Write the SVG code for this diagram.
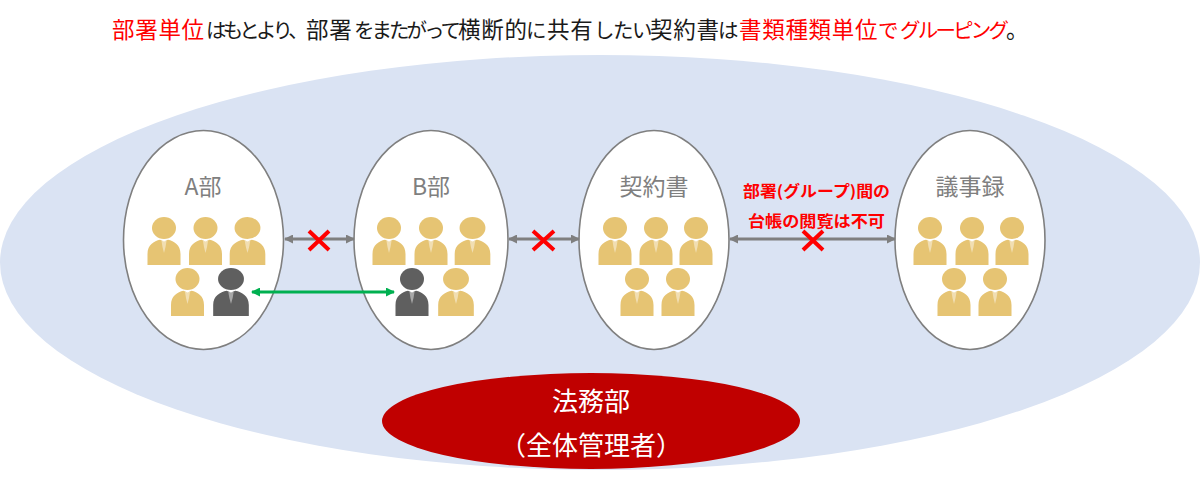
<svg xmlns="http://www.w3.org/2000/svg" xmlns:xlink="http://www.w3.org/1999/xlink" width="1200" height="486" viewBox="0 0 1200 486">
<style>
text{font-family:"Noto Sans CJK JP","Noto Sans",sans-serif}
.title{font-size:22.500px;fill:#1a1a1a}
.r{fill:#ff0000}
.kj{letter-spacing:.7px}
.k1,.k2,.k3,.k4,.k0{font-size:20.500px}
.k1{letter-spacing:-3.700px}
.k2{letter-spacing:-3px}
.k3{letter-spacing:-1.500px}
.k4{letter-spacing:-2.800px}
.grp{fill:#fff;stroke:#7f7f7f;stroke-width:1.6}
.lbl{font-size:23px;fill:#7f7f7f;text-anchor:middle}
.note{font-size:15.500px;font-weight:700;fill:#ff0000;text-anchor:middle}
.adm{font-size:26px;fill:#fff;text-anchor:middle}
.g{fill:#e6c473}
.d{fill:#5f5f5f}
.tie{fill:#fff;opacity:.45}
.gl{stroke:#7f7f7f;stroke-width:2.800;fill:none;marker-start:url(#ga);marker-end:url(#ga)}
.gn{stroke:#00b050;stroke-width:2.800;fill:none;marker-start:url(#gr);marker-end:url(#gr)}
.x{stroke:#ff0000;stroke-width:4;fill:none}
</style>
<defs>
<marker id="ga" viewBox="0 0 9 9" refX="8" refY="4.500" markerWidth="9" markerHeight="9" markerUnits="userSpaceOnUse" orient="auto-start-reverse"><path d="M0 0L9 4.500L0 9z" fill="#7f7f7f"/></marker>
<marker id="gr" viewBox="0 0 9 9" refX="8" refY="4.500" markerWidth="9" markerHeight="9" markerUnits="userSpaceOnUse" orient="auto-start-reverse"><path d="M0 0L9 4.500L0 9z" fill="#00b050"/></marker>
<g id="man">
<ellipse cx="0" cy="11" rx="12" ry="11"/>
<path d="M-16.500 48V37C-16.500 28-10 24-4 22.800L0 24.500L4 22.800C10 24 16.500 28 16.500 37V48Z"/>
<path class="tie" d="M-2.500 24H2.500L1.500 30L0 36L-1.500 30Z"/>
</g>
</defs>
<rect width="1200" height="486" fill="#fff"/>
<ellipse id="backdrop" cx="600" cy="262.500" rx="600" ry="207.500" fill="#dae3f3"/>
<g id="title">
<text class="title" y="38"><tspan class="r kj" x="112">部署単位</tspan><tspan class="k1" x="206">はもとより、</tspan><tspan class="kj" x="306">部署</tspan><tspan class="k2" x="354">をまたがって</tspan><tspan class="kj" x="458">横断的</tspan><tspan class="k0" x="526">に</tspan><tspan class="kj" x="547">共有</tspan><tspan class="k3" x="594">したい</tspan><tspan class="kj" x="650">契約書</tspan><tspan class="k0" x="718">は</tspan><tspan class="r kj" x="739">書類種類単位</tspan><tspan class="r k0" x="878">で</tspan><tspan class="r k4" x="900">グルーピング</tspan><tspan x="1006">。</tspan></text>
</g>
<g id="group-a">
<ellipse class="grp" cx="203.500" cy="240" rx="80" ry="109.500"/>
<text class="lbl" x="203" y="195">A部</text>
<use href="#man" class="g" x="164" y="217"/>
<use href="#man" class="g" x="205.500" y="217"/>
<use href="#man" class="g" transform="translate(247.500 217) scale(1.08 1)"/>
<use href="#man" class="g" x="187.500" y="268"/>
<use href="#man" class="d" transform="translate(231 268) scale(1.08 1)"/>
</g>
<g id="group-b">
<ellipse class="grp" cx="431" cy="240" rx="77" ry="109.500"/>
<text class="lbl" x="431" y="195">B部</text>
<use href="#man" class="g" x="389" y="217"/>
<use href="#man" class="g" x="431" y="217"/>
<use href="#man" class="g" transform="translate(472.500 217) scale(1.08 1)"/>
<use href="#man" class="d" x="412" y="268"/>
<use href="#man" class="g" transform="translate(456 268) scale(1.08 1)"/>
</g>
<g id="group-c">
<ellipse class="grp" cx="654" cy="240" rx="75" ry="109.500"/>
<text class="lbl" x="654" y="195">契約書</text>
<use href="#man" class="g" x="615" y="217"/>
<use href="#man" class="g" x="656" y="217"/>
<use href="#man" class="g" x="696" y="217"/>
<use href="#man" class="g" x="637" y="268"/>
<use href="#man" class="g" x="678" y="268"/>
</g>
<g id="group-d">
<ellipse class="grp" cx="970" cy="240" rx="75" ry="109.500"/>
<text class="lbl" x="970" y="195">議事録</text>
<use href="#man" class="g" x="930" y="217"/>
<use href="#man" class="g" x="972" y="217"/>
<use href="#man" class="g" x="1012" y="217"/>
<use href="#man" class="g" x="954" y="268"/>
<use href="#man" class="g" x="995" y="268"/>
</g>
<g id="connectors">
<line class="gl" x1="285" y1="239" x2="354" y2="239"/>
<line class="gl" x1="509" y1="239" x2="579" y2="239"/>
<line class="gl" x1="730" y1="239" x2="895" y2="239"/>
<line class="gn" x1="252" y1="292" x2="394" y2="292"/>
<path class="x" d="M309 231L329 250M329 231L309 250"/>
<path class="x" d="M533 231L554 250M554 231L533 250"/>
<path class="x" d="M803 231L823 250M823 231L803 250"/>
</g>
<g id="note">
<text class="note" x="816.500" y="197" textLength="147" lengthAdjust="spacingAndGlyphs">部署(グループ)間の</text>
<text class="note" x="816.500" y="227" textLength="137" lengthAdjust="spacingAndGlyphs">台帳の閲覧は不可</text>
</g>
<g id="admin">
<ellipse cx="591" cy="421" rx="209" ry="48" fill="#c00000"/>
<text class="adm" x="591" y="411">法務部</text>
<text class="adm" x="591" y="455">（全体管理者）</text>
</g>
</svg>
